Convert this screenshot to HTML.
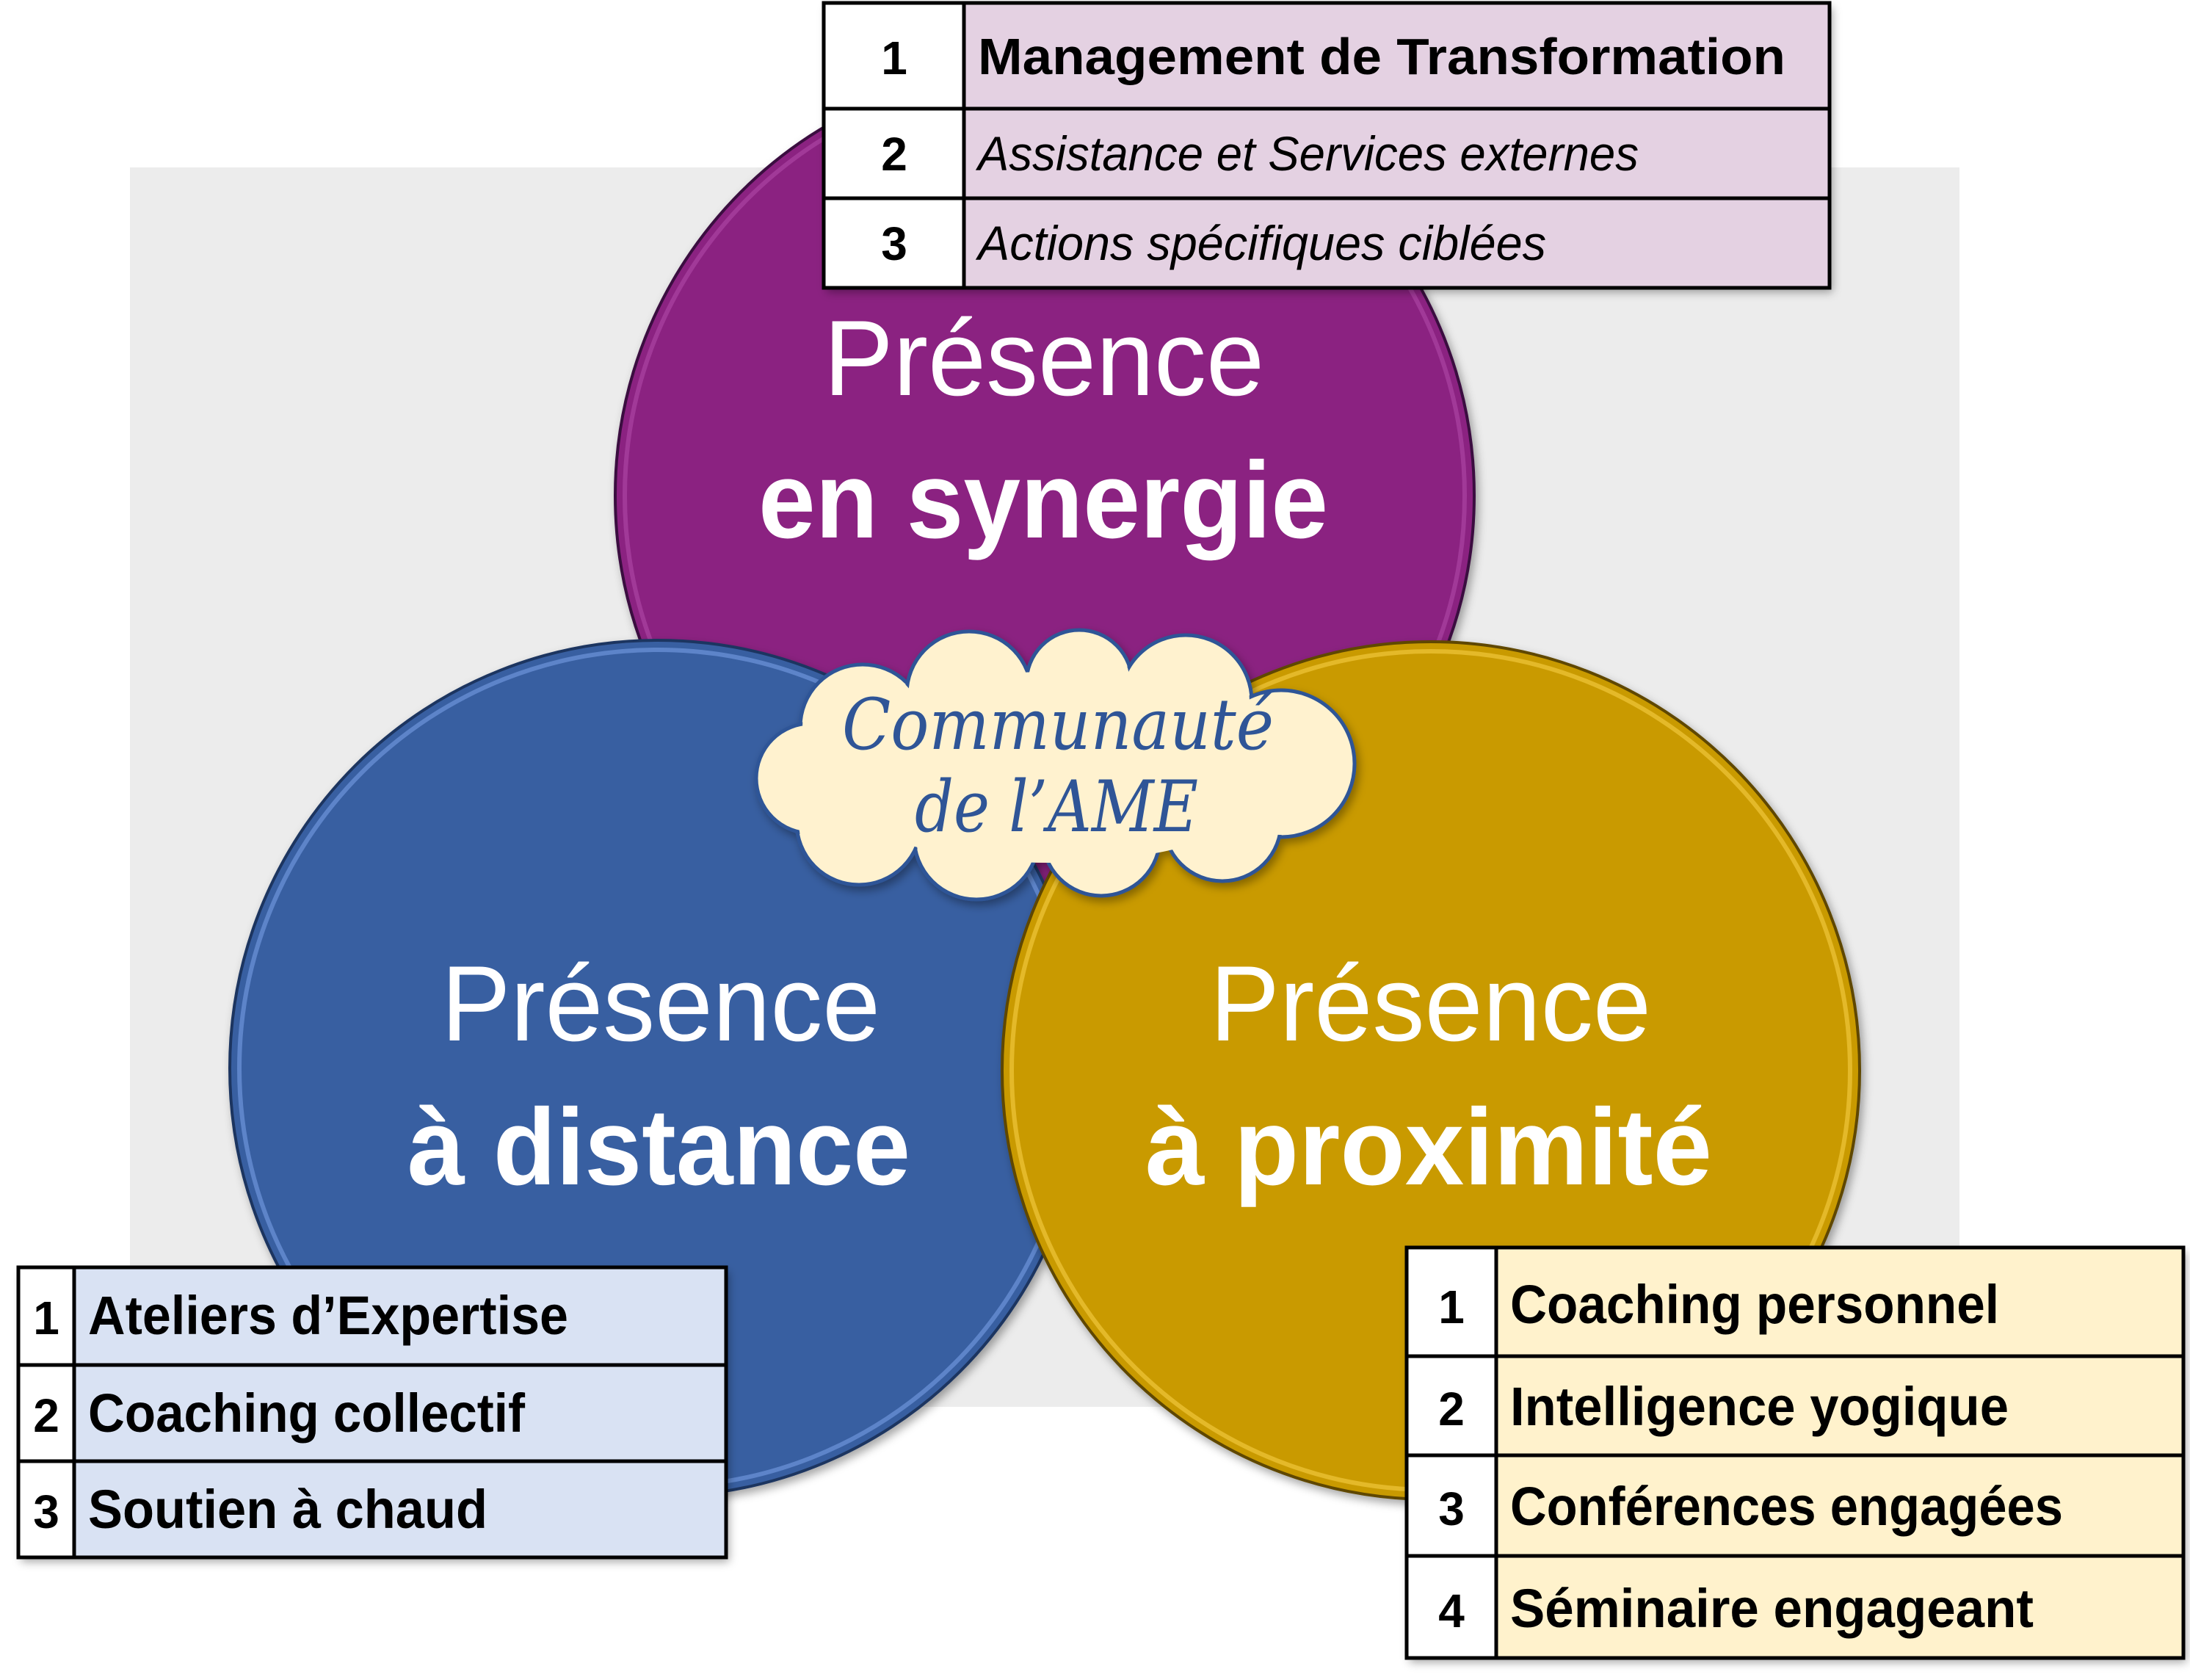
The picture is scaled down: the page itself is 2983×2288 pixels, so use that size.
<!DOCTYPE html>
<html><head><meta charset="utf-8"><style>html,body{margin:0;padding:0;background:#fff}svg{display:block}</style></head>
<body>
<svg width="2983" height="2288" viewBox="0 0 2983 2288" xmlns="http://www.w3.org/2000/svg">
<defs>
<filter id="sh" x="-10%" y="-10%" width="120%" height="120%"><feDropShadow dx="4" dy="6" stdDeviation="6" flood-color="#000" flood-opacity="0.35"/></filter>
</defs>
<rect x="177" y="228" width="2492" height="1688" fill="#ececec"/>
<!-- purple -->
<g filter="url(#sh)">
<circle cx="1423" cy="675" r="585" fill="#8b2381" stroke="#3a1040" stroke-width="4"/>
</g>
<circle cx="1423" cy="675" r="572" fill="none" stroke="#b04aa8" stroke-width="6" opacity="0.6"/>
<!-- blue -->
<g filter="url(#sh)">
<circle cx="896" cy="1455" r="583" fill="#385fa1" stroke="#1e3560" stroke-width="4"/>
</g>
<circle cx="896" cy="1455" r="570" fill="none" stroke="#6d94da" stroke-width="6" opacity="0.7"/>
<!-- gold -->
<g filter="url(#sh)">
<circle cx="1949" cy="1458" r="584" fill="#c99a06" stroke="#5e4700" stroke-width="4"/>
</g>
<circle cx="1949" cy="1458" r="571" fill="none" stroke="#f0c63a" stroke-width="6" opacity="0.7"/>

<g font-family="Liberation Sans, sans-serif" fill="#fff" text-anchor="start">
<text x="1122" y="538" font-size="146" textLength="600" lengthAdjust="spacingAndGlyphs">Présence</text>
<text x="1033" y="732" font-size="148" font-weight="bold" textLength="776" lengthAdjust="spacingAndGlyphs">en synergie</text>
<text x="601" y="1417" font-size="146" textLength="598" lengthAdjust="spacingAndGlyphs">Présence</text>
<text x="555" y="1613" font-size="148" font-weight="bold" textLength="685" lengthAdjust="spacingAndGlyphs">à distance</text>
<text x="1648" y="1417" font-size="146" textLength="601" lengthAdjust="spacingAndGlyphs">Présence</text>
<text x="1560" y="1613" font-size="148" font-weight="bold" textLength="772" lengthAdjust="spacingAndGlyphs">à proximité</text>
</g>

<!-- cloud -->
<g filter="url(#sh)">
<g fill="#fff2cf" stroke="#2f5597" stroke-width="5">
<circle cx="1175" cy="990" r="85"/>
<circle cx="1320" cy="945" r="85"/>
<circle cx="1470" cy="930" r="72"/>
<circle cx="1615" cy="955" r="90"/>
<circle cx="1745" cy="1040" r="100"/>
<circle cx="1665" cy="1120" r="80"/>
<circle cx="1500" cy="1140" r="80"/>
<circle cx="1330" cy="1140" r="85"/>
<circle cx="1170" cy="1120" r="85"/>
<circle cx="1105" cy="1060" r="75"/>
</g>
<g fill="#fff2cf">
<circle cx="1175" cy="990" r="82"/>
<circle cx="1320" cy="945" r="82"/>
<circle cx="1470" cy="930" r="69"/>
<circle cx="1615" cy="955" r="87"/>
<circle cx="1745" cy="1040" r="97"/>
<circle cx="1665" cy="1120" r="77"/>
<circle cx="1500" cy="1140" r="77"/>
<circle cx="1330" cy="1140" r="82"/>
<circle cx="1170" cy="1120" r="82"/>
<circle cx="1105" cy="1060" r="72"/>
<ellipse cx="1430" cy="1045" rx="330" ry="130"/>
</g>
</g>
<g font-family="DejaVu Serif, serif" font-style="italic" fill="#2f5597">
<text x="1147" y="1020" font-size="96" textLength="588" lengthAdjust="spacingAndGlyphs">Communauté</text>
<text x="1246" y="1132" font-size="96" textLength="386" lengthAdjust="spacingAndGlyphs">de l’AME</text>
</g>

<!-- top table -->
<g filter="url(#sh)">
<rect x="1122" y="4" width="1370" height="388" fill="#e4d1e2"/>
<rect x="1122" y="4" width="191" height="388" fill="#fff"/>
</g>
<g stroke="#000" stroke-width="5" fill="none">
<rect x="1122" y="4" width="1370" height="388"/>
<line x1="1313" y1="4" x2="1313" y2="392"/>
<line x1="1122" y1="148" x2="2492" y2="148"/>
<line x1="1122" y1="270" x2="2492" y2="270"/>
</g>
<g font-family="Liberation Sans, sans-serif" fill="#000">
<g font-weight="bold" font-size="64" text-anchor="middle">
<text x="1218" y="101">1</text><text x="1218" y="232">2</text><text x="1218" y="354">3</text>
</g>
<text x="1332" y="101" font-size="70" font-weight="bold" textLength="1100" lengthAdjust="spacingAndGlyphs">Management de Transformation</text>
<text x="1332" y="232" font-size="66" font-style="italic" textLength="900" lengthAdjust="spacingAndGlyphs">Assistance et Services externes</text>
<text x="1332" y="354" font-size="66" font-style="italic" textLength="774" lengthAdjust="spacingAndGlyphs">Actions spécifiques ciblées</text>
</g>

<!-- left table -->
<g filter="url(#sh)">
<rect x="25" y="1726" width="964" height="395" fill="#d9e2f3"/>
<rect x="25" y="1726" width="76" height="395" fill="#fff"/>
</g>
<g stroke="#000" stroke-width="5" fill="none">
<rect x="25" y="1726" width="964" height="395"/>
<line x1="101" y1="1726" x2="101" y2="2121"/>
<line x1="25" y1="1859" x2="989" y2="1859"/>
<line x1="25" y1="1990" x2="989" y2="1990"/>
</g>
<g font-family="Liberation Sans, sans-serif" fill="#000" font-weight="bold">
<g font-size="64" text-anchor="middle">
<text x="63" y="1817">1</text><text x="63" y="1950">2</text><text x="63" y="2081">3</text>
</g>
<text x="120" y="1817" font-size="74" textLength="654" lengthAdjust="spacingAndGlyphs">Ateliers d’Expertise</text>
<text x="120" y="1950" font-size="74" textLength="595" lengthAdjust="spacingAndGlyphs">Coaching collectif</text>
<text x="120" y="2081" font-size="74" textLength="544" lengthAdjust="spacingAndGlyphs">Soutien à chaud</text>
</g>

<!-- right table -->
<g filter="url(#sh)">
<rect x="1916" y="1699" width="1058" height="559" fill="#fff2cc"/>
<rect x="1916" y="1699" width="122" height="559" fill="#fff"/>
</g>
<g stroke="#000" stroke-width="5" fill="none">
<rect x="1916" y="1699" width="1058" height="559"/>
<line x1="2038" y1="1699" x2="2038" y2="2258"/>
<line x1="1916" y1="1847" x2="2974" y2="1847"/>
<line x1="1916" y1="1982" x2="2974" y2="1982"/>
<line x1="1916" y1="2119" x2="2974" y2="2119"/>
</g>
<g font-family="Liberation Sans, sans-serif" fill="#000" font-weight="bold">
<g font-size="64" text-anchor="middle">
<text x="1977" y="1802">1</text><text x="1977" y="1941">2</text><text x="1977" y="2077">3</text><text x="1977" y="2216">4</text>
</g>
<text x="2057" y="1802" font-size="74" textLength="666" lengthAdjust="spacingAndGlyphs">Coaching personnel</text>
<text x="2057" y="1941" font-size="74" textLength="679" lengthAdjust="spacingAndGlyphs">Intelligence yogique</text>
<text x="2057" y="2077" font-size="74" textLength="753" lengthAdjust="spacingAndGlyphs">Conférences engagées</text>
<text x="2057" y="2216" font-size="74" textLength="713" lengthAdjust="spacingAndGlyphs">Séminaire engageant</text>
</g>
</svg>
</body></html>
